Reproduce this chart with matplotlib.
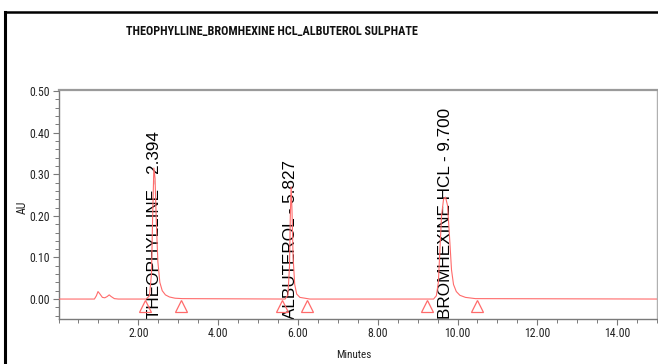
import matplotlib
matplotlib.use("Agg")
import matplotlib.pyplot as plt
from matplotlib.lines import Line2D
from matplotlib.ticker import MultipleLocator, FormatStrFormatter

# ---- data ----
time_min = [0.00, 0.90, 0.95, 0.99, 1.04, 1.10, 1.16, 1.22, 1.27, 1.32, 1.40, 1.50,
            2.20, 2.28, 2.33, 2.36, 2.39, 2.42, 2.45, 2.49, 2.54, 2.60, 2.68, 2.78, 2.92, 3.10,
            5.68, 5.75, 5.79, 5.81, 5.83, 5.85, 5.88, 5.92, 5.97, 6.05, 6.30,
            9.40, 9.47, 9.52, 9.56, 9.60, 9.65, 9.70, 9.75, 9.80, 9.85, 9.90, 9.97, 10.06, 10.20, 10.45,
            15.00]
absorbance = [0.000, 0.000, 0.008, 0.018, 0.012, 0.004, 0.003, 0.006, 0.010, 0.006, 0.001, 0.000,
              0.000, 0.008, 0.060, 0.200, 0.315, 0.290, 0.190, 0.090, 0.040, 0.020, 0.010, 0.005, 0.002, 0.001,
              0.000, 0.010, 0.080, 0.200, 0.270, 0.220, 0.100, 0.035, 0.012, 0.004, 0.000,
              0.000, 0.008, 0.040, 0.120, 0.200, 0.240, 0.245, 0.225, 0.150, 0.070, 0.035, 0.018, 0.009, 0.004, 0.001,
              0.000]

peak_names = ["THEOPHYLLINE", "ALBUTEROL", "BROMHEXINE HCL"]
peak_rt = [2.394, 5.827, 9.700]
integration_marks = [2.17, 3.08, 5.61, 6.23, 9.24, 10.50]
mark_level = -0.016

x_ticks = [2, 4, 6, 8, 10, 12, 14]
y_ticks = [0.0, 0.1, 0.2, 0.3, 0.4, 0.5]

title = "THEOPHYLLINE_BROMHEXINE HCL_ALBUTEROL SULPHATE"

narrow = ["Roboto Condensed", "Liberation Sans", "DejaVu Sans"]
regular = ["Liberation Sans", "DejaVu Sans"]

W, H = 658, 364
fig = plt.figure(figsize=(W / 100, H / 100), dpi=100)
fig.patch.set_facecolor("white")

# black outer frame (left and top visible)
fig.add_artist(Line2D([5 / W, 5 / W], [0, 1 - 12 / H], transform=fig.transFigure,
                      color="black", lw=2.2, solid_capstyle="projecting"))
fig.add_artist(Line2D([5 / W, 1], [1 - 12 / H, 1 - 12 / H], transform=fig.transFigure,
                      color="black", lw=1.8, solid_capstyle="projecting"))

left, right, top, bottom = 58.5, 657, 89.5, 319
ax = fig.add_axes([left / W, 1 - bottom / H, (right - left) / W, (bottom - top) / H])

line_color = "#ff6b6b"
ax.plot(time_min, absorbance, color=line_color, lw=0.8, zorder=3)
ax.plot(integration_marks, [mark_level] * len(integration_marks), linestyle="none",
        marker="^", markersize=8.5, markerfacecolor="none", markeredgecolor=line_color,
        markeredgewidth=0.9, zorder=3)

ax.set_xlim(0, 15)
ax.set_ylim(-0.048, 0.504)

for name, rt in zip(peak_names, peak_rt):
    ax.text(rt, -0.047, f"{name} - {rt:.3f}", rotation=90, ha="center", va="bottom",
            fontsize=12.3, family=regular, color="black", zorder=2)

ax.xaxis.set_minor_locator(MultipleLocator(0.5))
ax.yaxis.set_minor_locator(MultipleLocator(0.02))
ax.set_xticks(x_ticks)
ax.set_yticks(y_ticks)
ax.xaxis.set_major_formatter(FormatStrFormatter("%.2f"))
ax.yaxis.set_major_formatter(FormatStrFormatter("%.2f"))

spine_color = "#7a7a7a"
for s in ax.spines.values():
    s.set_color(spine_color)
    s.set_linewidth(1.0)
ax.spines["top"].set_linewidth(1.6)
ax.spines["top"].set_color("#9a9a9a")
ax.spines["right"].set_color("#b0b0b0")

ax.tick_params(axis="both", which="major", direction="out", length=4.5, width=0.8,
               color=spine_color, labelsize=8.5, pad=1.5)
ax.tick_params(axis="both", which="minor", direction="out", length=3, width=0.7,
               color=spine_color)
for lab in ax.get_xticklabels() + ax.get_yticklabels():
    lab.set_family(narrow)
    lab.set_color("#222222")

ax.set_ylabel("AU", fontsize=8.5, family=narrow, color="#222222", va="center", ha="center")
ax.yaxis.set_label_coords((22 - left) / (right - left), (bottom - 207) / (bottom - top))
ax.set_xlabel("Minutes", fontsize=8, family=narrow, color="#222222", va="center", ha="center")
ax.xaxis.set_label_coords((354 - left) / (right - left), (bottom - 355) / (bottom - top))

fig.text(272 / W, 1 - 32 / H, title, ha="center", va="center", fontsize=8.7,
         fontweight="bold", family=narrow, color="#111111")

fig.savefig("out.png", dpi=100, facecolor="white")
